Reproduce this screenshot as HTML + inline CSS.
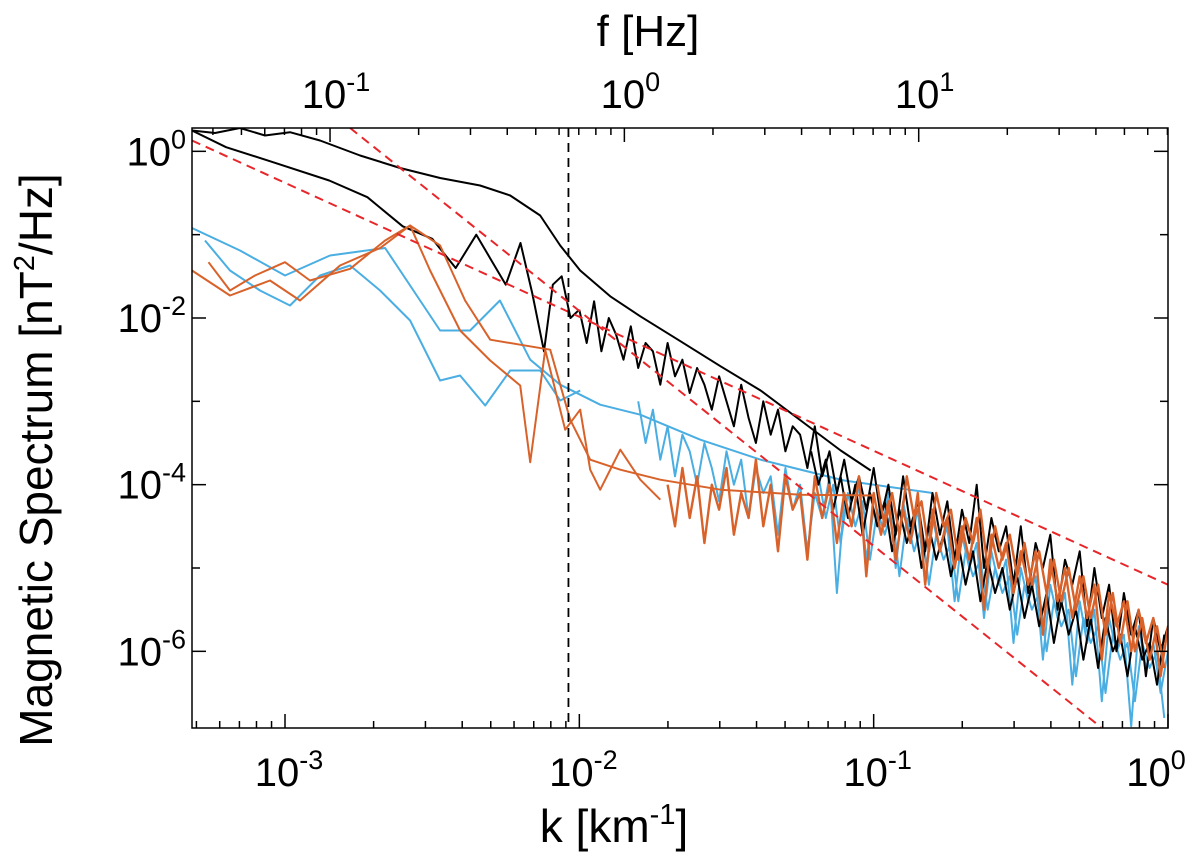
<!DOCTYPE html>
<html><head><meta charset="utf-8"><style>
body{margin:0;background:#fff}
svg{display:block;font-family:"Liberation Sans",sans-serif}
</style></head><body>
<svg id="chart" width="1200" height="861" viewBox="0 0 1200 861">
<defs><clipPath id="clip"><rect x="192" y="128" width="976" height="600"/></clipPath></defs>
<g id="series" clip-path="url(#clip)"></g>
<rect x="192" y="128" width="976" height="600" fill="none" stroke="#000" stroke-width="1.5"/>
<g id="axes"></g>
<text x="614" y="842" font-size="46" text-anchor="middle">k [km<tspan font-size="29" dy="-18">-1</tspan><tspan dy="18">]</tspan></text>
<text x="648" y="46" font-size="44" text-anchor="middle">f [Hz]</text>
<text transform="translate(52,460) rotate(-90)" font-size="46" text-anchor="middle">Magnetic Spectrum [nT<tspan font-size="29" dy="-18">2</tspan><tspan dy="18">/Hz]</tspan></text>
</svg>
<script>
const xMin=-3.316,xMax=0,yMin=-6.92,yMax=0.28,fOffset=1.847;
const xTickExps=[-3,-2,-1,0];
const yTickExps=[-6,-4,-2,0];
const yMinorExps=[-5,-3,-1];
const fTickExps=[-1,0,1];
const vLineLogK=-2.037;
const redSteep=[[-2.779,0.28],[-0.228,-6.91]];
const redShallow=[[-3.316,0.13],[0,-5.20]];
const blackSmoothK=[-3.316,-3.238,-3.153,-3.068,-2.983,-2.881,-2.745,-2.609,-2.473,-2.337,-2.235,-2.133,-2.065,-1.997,-1.895,-1.793,-1.656,-1.52,-1.384,-1.248,-1.112,-1.01];
const blackSmoothP=[0.25,0.22,0.28,0.19,0.23,0.13,-0.05,-0.2,-0.32,-0.41,-0.53,-0.77,-1.13,-1.43,-1.74,-1.98,-2.28,-2.58,-2.87,-3.23,-3.59,-3.83];
const blackLowK=[-3.316,-3.2,-3.05,-2.85,-2.72,-2.6,-2.5,-2.42,-2.35,-2.3,-2.25,-2.2,-2.16,-2.12,-2.09,-2.06,-2.03,-2.0];
const blackLowP=[0.25,0.05,-0.12,-0.35,-0.55,-0.9,-1.05,-1.4,-1.0,-1.3,-1.6,-1.1,-1.7,-2.4,-1.6,-1.5,-2.0,-1.9];
const gridStep=0.025;
const blackNoisyStart=-2.0;
const blackNoisyP=[-1.9,-2.3,-1.8,-2.4,-2.0,-2.2,-2.5,-2.1,-2.6,-2.3,-2.4,-2.8,-2.3,-2.7,-2.5,-2.9,-2.6,-2.8,-3.1,-2.7,-3.0,-3.3,-2.8,-3.2,-3.5,-3.0,-3.4,-3.1,-3.6,-3.3,-3.4,-3.8,-3.3,-3.9,-3.6,-4.1,-3.7,-4.2,-3.9,-4.3,-3.8,-4.4,-4.0,-4.6,-3.9,-4.5,-4.2,-4.8,-4.1,-4.6,-4.2,-4.9,-4.3,-4.7,-4.0,-5.0,-4.4,-4.8,-4.5,-5.2,-4.5,-5.3,-4.7,-5.0,-4.6,-5.5,-4.9,-5.2,-4.8,-5.7,-5.0,-5.6,-5.2,-6.0,-5.3,-5.8,-5.5,-6.3,-5.6,-6.0,-5.7];
const black2Start=-1.2125;
const black2P=[-3.6,-4.0,-3.7,-4.3,-3.9,-4.4,-4.0,-4.6,-4.1,-4.5,-4.2,-4.8,-4.3,-4.7,-4.4,-5.0,-4.5,-4.9,-4.6,-5.1,-4.7,-5.2,-4.8,-5.4,-4.9,-5.3,-5.0,-5.5,-5.1,-5.6,-5.2,-5.7,-5.3,-5.9,-5.4,-5.8,-5.5,-6.1,-5.6,-6.2,-5.6,-6.0,-5.8,-6.3,-5.7,-6.1,-5.9,-6.4,-5.8];
const blueSmoothK=[-3.316,-3.153,-3.0,-2.847,-2.66,-2.541,-2.473,-2.371,-2.27,-2.167,-2.065,-1.929,-1.793,-1.589,-1.384,-1.1,-0.8];
const blueSmoothP=[-0.92,-1.19,-1.49,-1.25,-1.16,-1.79,-2.15,-2.15,-1.79,-2.5,-2.8,-3.04,-3.16,-3.46,-3.7,-3.95,-4.1];
const blueLowK=[-3.272,-3.187,-3.085,-2.983,-2.881,-2.779,-2.677,-2.575,-2.473,-2.405,-2.32,-2.235,-2.133,-2.065,-1.997];
const blueLowP=[-1.07,-1.43,-1.67,-1.85,-1.49,-1.37,-1.67,-2.03,-2.75,-2.69,-3.05,-2.63,-2.63,-2.99,-2.87];
const blueNoisyStart=-1.8;
const blueNoisyP=[-3.0,-3.5,-3.1,-3.7,-3.3,-3.9,-3.4,-3.6,-4.0,-3.5,-3.8,-4.2,-3.6,-4.0,-3.7,-4.4,-3.8,-4.1,-3.9,-4.6,-3.8,-4.3,-4.0,-4.8,-4.1,-4.4,-3.9,-5.3,-4.2,-4.5,-4.0,-4.9,-4.3,-4.6,-4.1,-5.0,-4.2,-4.7,-4.3,-5.2,-4.4,-4.8,-4.5,-5.4,-4.6,-5.0,-4.7,-5.6,-4.8,-5.2,-4.9,-5.9,-5.0,-5.4,-5.1,-6.1,-5.2,-5.6,-5.3,-6.4,-5.4,-5.9,-5.5,-6.6,-5.6,-6.0,-5.8,-6.9,-5.7,-6.2,-5.9,-6.5,-6.0];
const blue2Start=-1.1875;
const blue2P=[-3.9,-4.4,-4.0,-4.7,-4.1,-4.5,-4.2,-4.9,-4.3,-4.6,-4.3,-5.1,-4.4,-4.8,-4.5,-5.2,-4.6,-4.9,-4.7,-5.4,-4.8,-5.1,-4.9,-5.5,-5.0,-5.3,-5.1,-5.8,-5.2,-5.5,-5.3,-6.0,-5.4,-5.7,-5.5,-6.3,-5.6,-5.9,-5.7,-6.5,-5.8,-6.1,-5.9,-6.6,-5.9,-6.2,-6.0,-6.8];
const orangeSmoothK=[-3.26,-3.187,-3.102,-3.0,-2.915,-2.779,-2.66,-2.575,-2.473,-2.388,-2.303,-2.201,-2.099,-2.031,-1.963,-1.861,-1.725,-1.52,-1.248,-1.0];
const orangeSmoothP=[-1.33,-1.67,-1.49,-1.33,-1.55,-1.41,-1.07,-0.89,-1.13,-1.79,-2.26,-2.32,-2.38,-3.22,-3.7,-3.82,-3.94,-4.06,-4.12,-4.13];
const orangeLowK=[-3.316,-3.187,-3.051,-2.949,-2.813,-2.677,-2.575,-2.507,-2.405,-2.303,-2.201,-2.167,-2.116,-2.048,-1.997,-1.963,-1.929,-1.861,-1.793,-1.725];
const orangeLowP=[-1.43,-1.73,-1.55,-1.79,-1.37,-1.16,-0.89,-1.43,-2.15,-2.51,-2.81,-3.73,-2.38,-3.34,-3.1,-3.82,-4.06,-3.58,-3.94,-4.18];
const orangeNoisyStart=-1.7;
const orangeNoisyP=[-4.0,-4.5,-3.8,-4.4,-3.9,-4.7,-4.0,-4.3,-3.8,-4.6,-4.1,-4.4,-3.7,-4.5,-4.0,-4.8,-3.9,-4.3,-4.1,-4.9,-3.9,-4.4,-4.0,-4.7,-4.1,-4.5,-3.9,-5.1,-4.1,-4.6,-4.2,-4.9,-4.3,-4.7,-4.1,-5.2,-4.3,-4.8,-4.4,-5.0,-4.5,-4.9,-4.4,-5.5,-4.6,-5.0,-4.7,-5.3,-4.8,-5.2,-4.8,-5.8,-4.9,-5.4,-5.0,-5.6,-5.1,-5.6,-5.2,-6.1,-5.3,-5.7,-5.4,-6.0,-5.5,-5.9,-5.6,-6.3,-5.7,-6.0];
const orange2Start=-0.9875;
const orange2P=[-4.0,-4.5,-4.1,-4.6,-3.9,-4.4,-4.2,-4.8,-4.1,-4.5,-4.3,-4.9,-4.4,-4.7,-4.3,-5.0,-4.5,-4.9,-4.6,-5.1,-4.7,-5.2,-4.8,-5.3,-4.9,-5.4,-5.0,-5.5,-5.1,-5.6,-5.2,-5.8,-5.3,-5.9,-5.4,-6.0,-5.6,-6.1,-5.7,-6.2];

const NS="http://www.w3.org/2000/svg";
const X=v=>192+(v-xMin)/(xMax-xMin)*976;
const Y=v=>128+(yMax-v)/(yMax-yMin)*600;
const series=document.getElementById('series'), axes=document.getElementById('axes');
function mk(tag,attrs,parent){const e=document.createElementNS(NS,tag);for(const k in attrs)e.setAttribute(k,attrs[k]);parent.appendChild(e);return e;}
function line(ks,ps,color,name,dash,w){
  const d=ks.map((k,i)=>(i?'L':'M')+X(k).toFixed(1)+','+Y(ps[i]).toFixed(1)).join('');
  const p=mk('path',{d:d,fill:'none',stroke:color,'stroke-width':w||2,'stroke-linejoin':'round'},series);
  if(dash)p.setAttribute('stroke-dasharray',dash);
  
  
}
function grid(start,n){const a=[];for(let i=0;i<n;i++)a.push(start+i*gridStep);return a;}
const BLUE='#4aaee2',ORANGE='#d8622a';
line(blueSmoothK,blueSmoothP,BLUE,'blue-smooth-line');
line(blueLowK,blueLowP,BLUE,'blue-lowk-line');
line(grid(blueNoisyStart,blueNoisyP.length),blueNoisyP,BLUE,'blue-noisy-line',null,2);
line(grid(blue2Start,blue2P.length),blue2P,BLUE,'blue-noisy-line-2',null,2);
line(blackSmoothK,blackSmoothP,'#000','black-smooth-line');
line(blackLowK,blackLowP,'#000','black-lowk-line');
line(grid(blackNoisyStart,blackNoisyP.length),blackNoisyP,'#000','black-noisy-line',null,2);
line(grid(black2Start,black2P.length),black2P,'#000','black-noisy-line-2',null,2);
line(orangeSmoothK,orangeSmoothP,ORANGE,'orange-smooth-line');
line(orangeLowK,orangeLowP,ORANGE,'orange-lowk-line');
line(grid(orangeNoisyStart,orangeNoisyP.length),orangeNoisyP,ORANGE,'orange-noisy-line',null,2.4);
line(grid(orange2Start,orange2P.length),orange2P,ORANGE,'orange-noisy-line-2',null,2.4);
line(redSteep.map(p=>p[0]),redSteep.map(p=>p[1]),'#e8262a','red-steep-fit','9,6');
line(redShallow.map(p=>p[0]),redShallow.map(p=>p[1]),'#e8262a','red-shallow-fit','9,6');
const vl=mk('line',{x1:X(vLineLogK),x2:X(vLineLogK),y1:128,y2:728,stroke:'#000','stroke-width':1.8,'stroke-dasharray':'9,6'},series);



function tick(x1,y1,x2,y2,name){const t=mk('line',{x1,y1,x2,y2,stroke:'#000','stroke-width':1.5},axes);}
function label(x,y,exp,anchor,name){
  const t=mk('text',{x:x,y:y,'font-size':40,'text-anchor':anchor},axes);
  t.textContent='10';
  const s=mk('tspan',{'font-size':27,dy:-17},t);s.textContent=String(exp);
  
}
for(let d=-4;d<=0;d++)for(let m=1;m<10;m++){
  const v=d+Math.log10(m); if(v<xMin||v>xMax)continue; const x=X(v),L=m===1?14:7;
  tick(x,728,x,728-L,'x-tick');
}
xTickExps.forEach(e=>label(X(e)+(e===0?-12:4),786,e,'middle','x-tick-label'));
for(let d=-2;d<=2;d++)for(let m=1;m<10;m++){
  const v=d+Math.log10(m)-fOffset; if(v<xMin||v>xMax)continue; const x=X(v),L=m===1?14:7;
  tick(x,128,x,128+L,'f-tick');
}
fTickExps.forEach(e=>label(X(e-fOffset)+6,108,e,'middle','f-tick-label'));
yTickExps.forEach(e=>{const y=Y(e);tick(192,y,206,y,'y-tick');tick(1168,y,1154,y,'y-tick');label(186,y+14,e,'end','y-tick-label');});
yMinorExps.forEach(e=>{const y=Y(e);tick(192,y,200,y,'y-minor-tick');tick(1168,y,1160,y,'y-minor-tick');});
</script>
</body></html>
